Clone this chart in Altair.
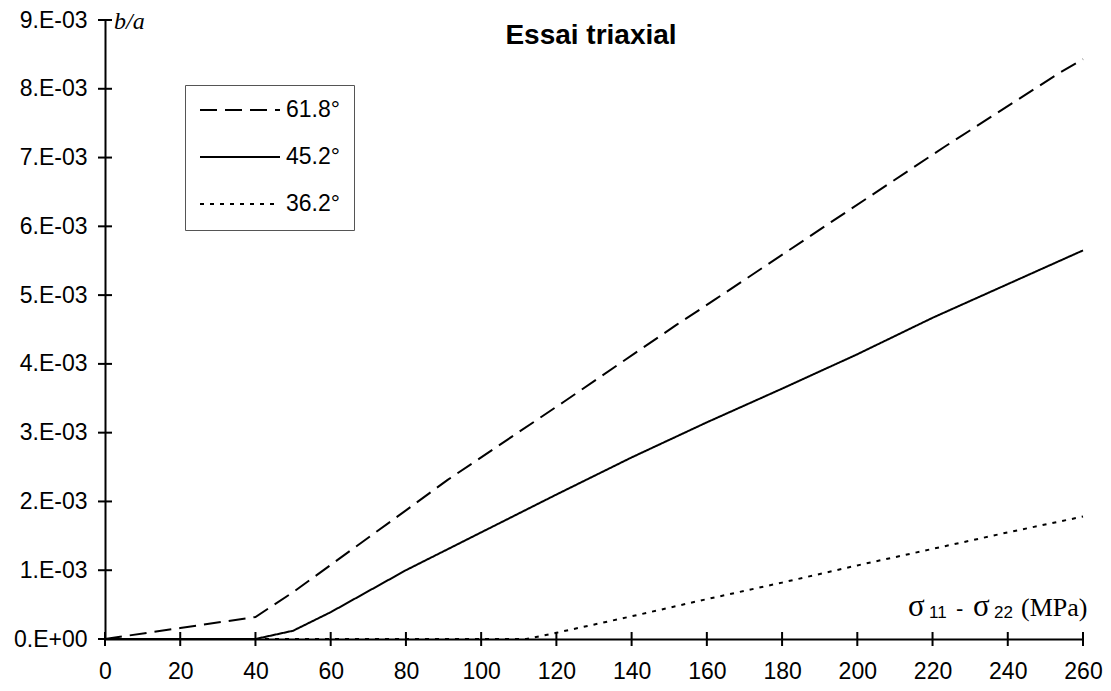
import altair as alt
import pandas as pd

# ---------------- data ----------------
series_names = ["61.8°", "45.2°", "36.2°"]

x_618 = [0, 20, 40, 50, 81, 91, 122, 152, 162, 193, 223, 254, 260]
y_618 = [0.0, 0.16, 0.32, 0.68, 1.91, 2.31, 3.45, 4.57, 4.93, 6.06, 7.15, 8.24, 8.43]  # x 1e-3

x_452 = [0, 40, 50, 60, 80, 100, 120, 140, 160, 180, 200, 220, 240, 260]
y_452 = [0.0, 0.0, 0.12, 0.39, 1.0, 1.55, 2.1, 2.64, 3.15, 3.64, 4.14, 4.67, 5.16, 5.65]

x_362 = [0, 112, 120, 140, 160, 180, 200, 220, 240, 260]
y_362 = [0.0, 0.0, 0.09, 0.33, 0.58, 0.82, 1.07, 1.31, 1.55, 1.78]

x_ticks = [0, 20, 40, 60, 80, 100, 120, 140, 160, 180, 200, 220, 240, 260]
y_ticks = [0, 0.001, 0.002, 0.003, 0.004, 0.005, 0.006, 0.007, 0.008, 0.009]

title_text = "Essai triaxial"
y_label = "b/a"
x_label_parts = ["σ", "11", "-", "σ", "22", "(MPa)"]

# ---------------- tables ----------------
rows = []
for name, xs, ys in [(series_names[0], x_618, y_618),
                     (series_names[1], x_452, y_452),
                     (series_names[2], x_362, y_362)]:
    for i, (a, b) in enumerate(zip(xs, ys)):
        rows.append({"serie": name, "s": a, "ba": b * 1e-3, "ord": i})
df = pd.DataFrame(rows)

xt_df = pd.DataFrame({"s": x_ticks, "ba": [0] * len(x_ticks)})
yt_df = pd.DataFrame({"s": [0] * len(y_ticks), "ba": y_ticks})

FONT = "Liberation Sans"
SERIF = "Liberation Serif"
LBL = 23

x_enc = alt.X("s:Q",
              scale=alt.Scale(domain=[0, 260], nice=False, zero=False),
              axis=alt.Axis(values=x_ticks, title=None, ticks=False, grid=False,
                            domainColor="black", domainWidth=2,
                            labelPadding=21, labelFontSize=LBL, labelFont=FONT,
                            labelColor="black", labelFlush=False))
y_enc = alt.Y("ba:Q",
              scale=alt.Scale(domain=[0, 0.009], nice=False),
              axis=alt.Axis(values=y_ticks, title=None, ticks=False, grid=False,
                            domainColor="black", domainWidth=2,
                            labelPadding=18, labelFontSize=LBL, labelFont=FONT,
                            labelColor="black", labelFlush=False,
                            labelExpr="datum.value == 0 ? '0.E+00' : round(datum.value*1000) + '.E-03'"))

lines = alt.Chart(df).mark_line(color="black", strokeWidth=2, strokeCap="butt").encode(
    x=x_enc,
    y=y_enc,
    strokeDash=alt.StrokeDash(
        "serie:N",
        scale=alt.Scale(domain=series_names, range=[[17, 8], [1, 0], [4, 6]]),
        legend=alt.Legend(
            title=None, orient="none", legendX=80, legendY=65,
            symbolType="stroke", symbolSize=6400, symbolStrokeWidth=2,
            symbolStrokeColor="black", clipHeight=22,
            labelFont=FONT, labelFontSize=LBL, labelColor="black", labelOffset=5,
            labelLimit=200, rowPadding=24, padding=14,
            strokeColor="#555555", fillColor="white",
        ),
    ),
    order="ord:Q",
)

xticks = alt.Chart(xt_df).mark_tick(orient="vertical", size=14, thickness=2,
                                    color="black", opacity=1).encode(x=x_enc, y=y_enc)
yticks = alt.Chart(yt_df).mark_tick(orient="horizontal", size=14, thickness=2,
                                    color="black", opacity=1).encode(x=x_enc, y=y_enc)

# axis title "σ11 - σ22 (MPa)", composed of pieces anchored at the end of the x axis
anchor_df = pd.DataFrame({"s": [260], "ba": [0]})


def piece(text, font, size, dx, dy, style="normal"):
    return alt.Chart(anchor_df).mark_text(
        text=text, font=font, fontSize=size, fontStyle=style, align="left",
        baseline="alphabetic", dx=dx, dy=dy, color="black").encode(x=x_enc, y=y_enc)


xlab = [
    piece(x_label_parts[0], SERIF, 31, -175, -23),
    piece(x_label_parts[1], FONT, 17, -154, -21),
    piece(x_label_parts[2], FONT, 22, -127, -23),
    piece(x_label_parts[3], SERIF, 31, -110, -23),
    piece(x_label_parts[4], FONT, 17, -89, -21),
    piece(x_label_parts[5], SERIF, 26, -62, -23),
]

ylab = alt.Chart(pd.DataFrame({"s": [0], "ba": [0.009], "t": [y_label]})).mark_text(
    font=SERIF, fontSize=24, fontStyle="italic", align="left", baseline="alphabetic",
    dx=9, dy=9, color="black").encode(x=x_enc, y=y_enc, text="t:N")

title = alt.Chart(pd.DataFrame({"t": [title_text]})).mark_text(
    font=FONT, fontSize=28, fontWeight="bold", align="center", baseline="alphabetic",
    color="black").encode(x=alt.value(486), y=alt.value(24), text="t:N")

chart = alt.layer(lines, xticks, yticks, *xlab, ylab, title).properties(
    width=978, height=619,
    autosize=alt.AutoSizeParams(type="none"),
    padding={"left": 97, "top": 12, "right": 20, "bottom": 52},
    background="white",
).configure_view(stroke=None)

chart.save("out.html", embed_options={"renderer": "svg", "actions": False})
